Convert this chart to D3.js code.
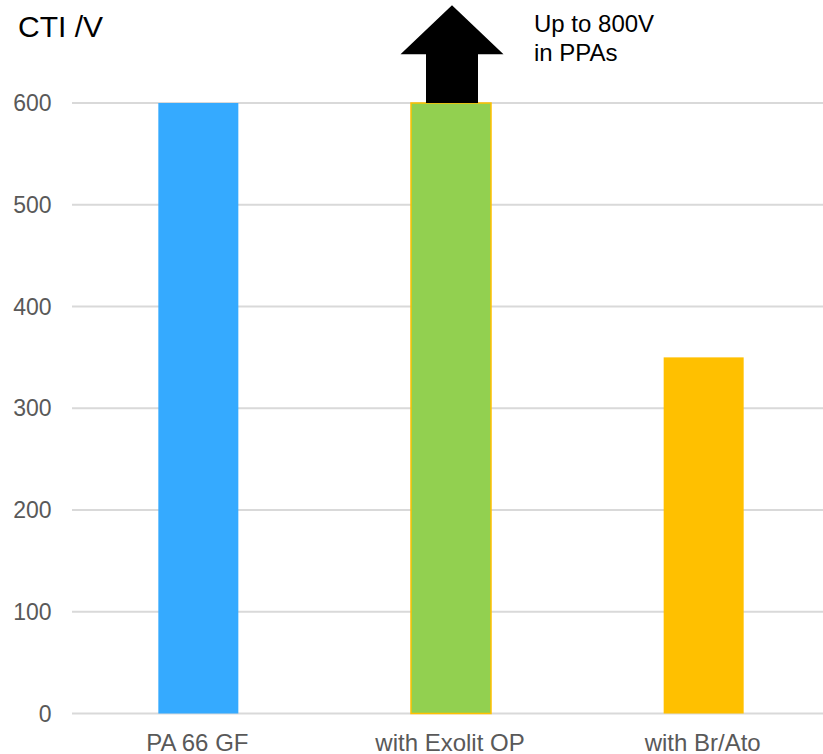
<!DOCTYPE html>
<html>
<head>
<meta charset="utf-8">
<script src="https://cdn.jsdelivr.net/npm/d3@7"></script>
<style>
  html, body { margin: 0; padding: 0; background: #fff; }
  svg { display: block; }
</style>
</head>
<body>
<svg width="823" height="754"></svg>
<script>
// data
const categories = ["PA 66 GF", "with Exolit OP", "with Br/Ato"]
const ctiValues = [600, 600, 350]
const barColors = ["#35AAFF", "#92D050", "#FFC000"]
const yTicks = [0, 100, 200, 300, 400, 500, 600]
const arrowNote = ["Up to 800V", "in PPAs"]
const arrowFrom = 600, arrowHeadBase = 648, arrowTip = 696

const svg = d3.select("svg")
const font = "'Liberation Sans', Arial, sans-serif"

const y = d3.scaleLinear()
    .domain([0, 600])
    .range([713.5, 103])

const x = d3.scalePoint()
    .domain(categories)
    .range([72, 830])
    .padding(0.5)

const barW = 80

// gridlines
svg.append("g")
   .selectAll("line")
   .data(yTicks)
   .join("line")
   .attr("x1", 72)
   .attr("x2", 830)
   .attr("y1", d => y(d))
   .attr("y2", d => y(d))
   .attr("stroke", "#d9d9d9")
   .attr("stroke-width", 2)

// tick labels
svg.append("g")
   .attr("font-family", font)
   .attr("font-size", "23px")
   .attr("fill", "#595959")
   .attr("text-anchor", "end")
   .selectAll("text")
   .data(yTicks)
   .join("text")
   .attr("x", 51.5)
   .attr("y", d => y(d))
   .attr("dy", "0.35em")
   .text(d => d)

// bars
svg.append("g")
   .selectAll("rect")
   .data(categories)
   .join("rect")
   .attr("x", d => x(d) - barW / 2)
   .attr("width", barW)
   .attr("y", (d, i) => y(ctiValues[i]))
   .attr("height", (d, i) => y(0) - y(ctiValues[i]))
   .attr("fill", (d, i) => barColors[i])
   .attr("stroke", (d, i) => i === 1 ? "#FFC000" : null)
   .attr("stroke-width", 1.5)

// category labels
svg.append("g")
   .attr("font-family", font)
   .attr("font-size", "24px")
   .attr("fill", "#595959")
   .attr("text-anchor", "middle")
   .selectAll("text")
   .data(categories)
   .join("text")
   .attr("x", d => x(d) - 1)
   .attr("y", 750.5)
   .text(d => d)

// arrow over the Exolit bar
const ax = x(categories[1]) + 1
const shaft = 26, head = 51.5
const arrowPts = [
   [ax - shaft, y(arrowFrom)],
   [ax - shaft, y(arrowHeadBase)],
   [ax - head, y(arrowHeadBase)],
   [ax, y(arrowTip)],
   [ax + head, y(arrowHeadBase)],
   [ax + shaft, y(arrowHeadBase)],
   [ax + shaft, y(arrowFrom)]
]
svg.append("path")
   .attr("d", d3.line()(arrowPts) + "Z")
   .attr("fill", "#000")

svg.append("g")
   .attr("font-family", font)
   .attr("font-size", "24px")
   .attr("fill", "#000")
   .selectAll("text")
   .data(arrowNote)
   .join("text")
   .attr("x", 534)
   .attr("y", (d, i) => 32 + i * 29)
   .text(d => d)

// axis title
svg.append("text")
   .attr("x", 18)
   .attr("y", 36.5)
   .attr("font-family", font)
   .attr("font-size", "30px")
   .attr("fill", "#000")
   .text("CTI /V")
</script>
</body>
</html>
